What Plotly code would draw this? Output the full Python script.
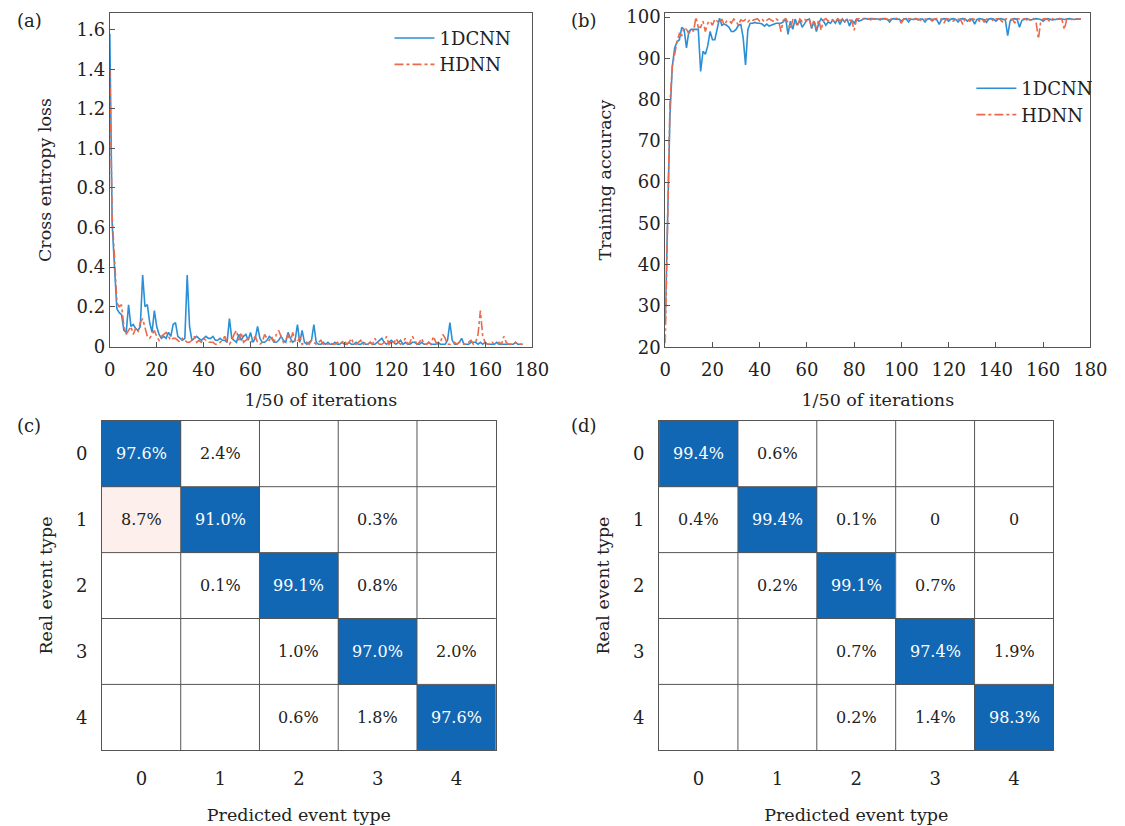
import plotly.graph_objects as go

# ---------------- data ----------------
loss_1dcnn = [
    1.58, 0.62, 0.40, 0.19, 0.17, 0.16, 0.08, 0.07, 0.21, 0.10,
    0.11, 0.09, 0.08, 0.10, 0.36, 0.20, 0.21, 0.12, 0.07, 0.18,
    0.10, 0.06, 0.04, 0.05, 0.04, 0.07, 0.05, 0.11, 0.12, 0.05,
    0.04, 0.03, 0.04, 0.36, 0.10, 0.03, 0.04, 0.05, 0.04, 0.03,
    0.04, 0.05, 0.04, 0.04, 0.05, 0.03, 0.03, 0.04, 0.03, 0.03,
    0.02, 0.14, 0.04, 0.03, 0.02, 0.06, 0.03, 0.05, 0.06, 0.03,
    0.07, 0.02, 0.04, 0.10, 0.04, 0.02, 0.02, 0.03, 0.05, 0.04,
    0.02, 0.02, 0.03, 0.05, 0.03, 0.02, 0.07, 0.04, 0.02, 0.03,
    0.11, 0.02, 0.08, 0.02, 0.01, 0.02, 0.03, 0.11, 0.02, 0.01,
    0.01, 0.02, 0.01, 0.02, 0.01, 0.01, 0.02, 0.01, 0.01, 0.02,
    0.01, 0.01, 0.02, 0.01, 0.01, 0.02, 0.01, 0.01, 0.02, 0.01,
    0.01, 0.02, 0.01, 0.01, 0.02, 0.03, 0.04, 0.02, 0.01, 0.02,
    0.03, 0.02, 0.01, 0.02, 0.03, 0.01, 0.02, 0.01, 0.01, 0.02,
    0.02, 0.01, 0.01, 0.02, 0.01, 0.01, 0.02, 0.01, 0.01, 0.01,
    0.02, 0.01, 0.01, 0.01, 0.03, 0.12, 0.03, 0.01, 0.01, 0.02,
    0.04, 0.01, 0.01, 0.01, 0.02, 0.02, 0.02, 0.01, 0.02, 0.01,
    0.02, 0.01, 0.01, 0.01, 0.01, 0.02, 0.01, 0.01, 0.01, 0.01,
    0.01, 0.01, 0.01, 0.02, 0.01, 0.01, 0.01,
]
loss_hdnn = [
    1.40, 0.65, 0.45, 0.22, 0.20, 0.21, 0.10, 0.06, 0.08, 0.10,
    0.06, 0.09, 0.07, 0.12, 0.14, 0.09, 0.05, 0.04, 0.06, 0.08,
    0.05, 0.03, 0.05, 0.06, 0.07, 0.05, 0.03, 0.04, 0.04, 0.03,
    0.02, 0.04, 0.03, 0.02, 0.02, 0.03, 0.05, 0.02, 0.03, 0.02,
    0.04, 0.03, 0.02, 0.02, 0.02, 0.01, 0.01, 0.02, 0.03, 0.05,
    0.02, 0.01, 0.03, 0.06, 0.08, 0.03, 0.07, 0.02, 0.03, 0.04,
    0.02, 0.03, 0.05, 0.02, 0.01, 0.02, 0.06, 0.04, 0.03, 0.05,
    0.02, 0.06, 0.08, 0.05, 0.02, 0.03, 0.06, 0.02, 0.07, 0.03,
    0.02, 0.05, 0.01, 0.02, 0.02, 0.01, 0.03, 0.02, 0.01, 0.02,
    0.03, 0.01, 0.02, 0.01, 0.02, 0.01, 0.01, 0.02, 0.01, 0.02,
    0.03, 0.01, 0.02, 0.04, 0.01, 0.01, 0.02, 0.03, 0.01, 0.02,
    0.01, 0.02, 0.01, 0.04, 0.02, 0.01, 0.01, 0.02, 0.05, 0.01,
    0.02, 0.01, 0.04, 0.02, 0.01, 0.02, 0.04, 0.01, 0.02, 0.05,
    0.03, 0.01, 0.02, 0.04, 0.01, 0.01, 0.02, 0.01, 0.05, 0.02,
    0.01, 0.02, 0.06, 0.04, 0.01, 0.01, 0.02, 0.02, 0.01, 0.02,
    0.02, 0.01, 0.01, 0.02, 0.03, 0.01, 0.02, 0.06, 0.18, 0.05,
    0.02, 0.01, 0.01, 0.02, 0.01, 0.01, 0.02, 0.01, 0.05, 0.02,
    0.01, 0.01, 0.01, 0.02, 0.01, 0.01, 0.01,
]
acc_1dcnn = [
    25.5, 55, 76, 88, 92.5, 94, 94.5, 97.5, 97, 92.5,
    96.5, 97, 97, 97, 97, 86.8, 91.7, 91, 93, 96.5,
    94.5, 94.5, 97, 99.7, 98, 98.3, 98, 97.5, 96.5, 96.5,
    97, 98, 98.2, 95, 88.4, 97, 98.5, 98.5, 98.7, 98.5,
    98.5, 98.3, 97.8, 98.3, 97.8, 98, 98.2, 98.5, 98.5, 98.5,
    98.8, 99.6, 95.8, 99, 97, 99.5, 98, 99.2, 97.5, 98.5,
    99.3, 99.5, 97.2, 99, 96.5, 98.5, 99.6, 99, 98, 98.8,
    98.5, 99.3, 98.5, 99.5, 98.2, 99.5, 98.8, 99.5, 97.8, 99.3,
    98.5, 99.5, 99, 99.2, 99.6, 99.6, 99.5, 99.6, 99.6, 99.5,
    99.5, 99.3, 99.6, 99.5, 99.4, 98.8, 99.5, 99.6, 99.4, 99.5,
    99.0, 99.5, 99.6, 98.8, 99.5, 99.4, 99.6, 99.3, 99.5, 99.5,
    98.8, 99.5, 99.6, 99.4, 99.5, 99.3, 98.2, 99.4, 99.6, 99.5,
    99.0, 99.5, 99.6, 99.4, 98.8, 99.5, 99.6, 99.5, 99.0, 99.5,
    99.5, 98.3, 99.4, 99.6, 99.5, 99.4, 98.7, 99.5, 99.6, 99.5,
    99.0, 99.5, 99.6, 99.4, 99.3, 95.5, 99.0, 99.5, 99.6, 99.4,
    97.5, 99.2, 99.5, 99.6, 99.4, 99.3, 99.5, 99.6, 99.5, 99.4,
    99.0, 99.5, 99.6, 99.5, 99.3, 99.4, 99.5, 99.6, 99.5, 99.4,
    99.5, 99.6, 99.5, 99.4, 99.5, 99.5, 99.5,
]
acc_hdnn = [
    21, 55, 79, 88, 91.5, 94, 96, 95.5, 97.5, 97,
    96, 97, 96.5, 100, 97.5, 97.5, 99, 96.5, 98.5, 99,
    98, 99.5, 99, 98.5, 99.5, 98, 99, 99.2, 98.5, 99.5,
    99, 98, 99.3, 99, 99.4, 98.8, 99.5, 99.2, 99.4, 99.6,
    99, 99.5, 98.8, 99.3, 99.6, 99.2, 98.9, 99.5, 99.1, 96.5,
    99.2, 99.6, 98.6, 97, 99.3, 98.8, 97.8, 99.5, 98.9, 99.4,
    99.1, 99.5, 97.5, 99.3, 97.2, 99.4, 96.8, 99.2, 99.6, 99.0,
    99.5, 99.2, 98.8, 99.6, 99.1, 99.5, 98.9, 99.6, 99.3, 99.0,
    96.8, 99.5, 99.6, 99.2, 99.6, 99.4, 99.6, 99.3, 99.6, 99.5,
    99.3, 99.6, 99.4, 99.7, 99.5, 99.3, 99.6, 99.5, 99.7, 99.4,
    98.5, 99.6, 99.4, 99.6, 99.5, 99.3, 99.6, 99.5, 99.2, 99.6,
    99.5, 99.4, 99.6, 99.0, 99.5, 99.6, 99.4, 99.5, 98.5, 99.6,
    99.5, 99.3, 99.0, 99.6, 99.5, 99.4, 98.2, 99.6, 99.5, 99.0,
    99.6, 99.4, 99.5, 99.0, 99.6, 98.8, 99.5, 99.4, 99.6, 99.0,
    99.5, 99.6, 99.3, 98.7, 99.5, 99.6, 99.4, 99.5, 98.5, 99.6,
    99.5, 99.4, 99.6, 99.3, 99.5, 99.0, 99.6, 98.8, 94.7, 99.0,
    99.5, 99.6, 99.4, 98.8, 99.6, 99.5, 99.4, 99.6, 99.3, 97.0,
    99.5, 99.6, 99.4, 99.5, 99.6, 99.5, 99.5,
]

loss_ticks = [0, 0.2, 0.4, 0.6, 0.8, 1.0, 1.2, 1.4, 1.6]
loss_ticktext = ["0", "0.2", "0.4", "0.6", "0.8", "1.0", "1.2", "1.4", "1.6"]
acc_ticks = [20, 30, 40, 50, 60, 70, 80, 90, 100]
iter_ticks = [0, 20, 40, 60, 80, 100, 120, 140, 160, 180]

classes = ["0", "1", "2", "3", "4"]
# confusion matrices (row = real, col = predicted), None = empty cell
cm_1dcnn = [
    [97.6, 2.4, None, None, None],
    [8.7, 91.0, None, 0.3, None],
    [None, 0.1, 99.1, 0.8, None],
    [None, None, 1.0, 97.0, 2.0],
    [None, None, 0.6, 1.8, 97.6],
]
cm_hdnn = [
    [99.4, 0.6, None, None, None],
    [0.4, 99.4, 0.1, 0.0, 0.0],
    [None, 0.2, 99.1, 0.7, None],
    [None, None, 0.7, 97.4, 1.9],
    [None, None, 0.2, 1.4, 98.3],
]

# ---------------- style ----------------
FONT = "DejaVu Serif, Liberation Serif, serif"
BLUE = "#2a8fd6"
RED = "#ea6a4b"
CELL_BLUE = "#1167b4"
AXC = "#555555"
TXT = "#222222"

fig = go.Figure()

# (a) loss
fig.add_trace(go.Scatter(x=list(range(len(loss_1dcnn))), y=loss_1dcnn, mode="lines",
                         name="1DCNN", line=dict(color=BLUE, width=1.6),
                         xaxis="x", yaxis="y", legend="legend"))
fig.add_trace(go.Scatter(x=list(range(len(loss_hdnn))), y=loss_hdnn, mode="lines",
                         name="HDNN", line=dict(color=RED, width=1.6, dash="dashdot"),
                         xaxis="x", yaxis="y", legend="legend"))
# (b) accuracy
fig.add_trace(go.Scatter(x=list(range(len(acc_1dcnn))), y=acc_1dcnn, mode="lines",
                         name="1DCNN", line=dict(color=BLUE, width=1.6),
                         xaxis="x2", yaxis="y2", legend="legend2"))
fig.add_trace(go.Scatter(x=list(range(len(acc_hdnn))), y=acc_hdnn, mode="lines",
                         name="HDNN", line=dict(color=RED, width=1.6, dash="dashdot"),
                         xaxis="x2", yaxis="y2", legend="legend2"))


def cm_z(cm):
    z = []
    for i, row in enumerate(cm):
        zr = []
        for j, v in enumerate(row):
            if i == j:
                zr.append(1.0)
            elif v is None:
                zr.append(0.0)
            else:
                zr.append(-v / 100.0)
        z.append(zr)
    return z


cscale = [[0.0, "#e07a6a"], [0.4565, "#fcefec"], [0.475, "#ffffff"],
          [0.999, "#ffffff"], [1.0, CELL_BLUE]]

for cm, xa, ya in [(cm_1dcnn, "x3", "y3"), (cm_hdnn, "x4", "y4")]:
    fig.add_trace(go.Heatmap(z=cm_z(cm), x=classes, y=classes, zmin=-1, zmax=1,
                             colorscale=cscale, showscale=False, hoverinfo="skip",
                             xaxis=xa, yaxis=ya))
    n = len(classes)
    for i in range(n):
        for j in range(n):
            v = cm[i][j]
            if v is None:
                continue
            txt = "0" if v == 0 else f"{v:.1f}%"
            fig.add_annotation(x=classes[j], y=classes[i], xref=xa, yref=ya, text=txt,
                               showarrow=False,
                               font=dict(family=FONT, size=16,
                                         color="white" if i == j else TXT))
    # cell grid lines
    for k in range(1, n):
        fig.add_shape(type="line", xref=xa, yref=ya + " domain", x0=k - 0.5, x1=k - 0.5,
                      y0=0, y1=1, line=dict(color=AXC, width=1), layer="above")
        fig.add_shape(type="line", xref=xa + " domain", yref=ya, y0=k - 0.5, y1=k - 0.5,
                      x0=0, x1=1, line=dict(color=AXC, width=1), layer="above")

tickfont = dict(family=FONT, size=18, color=TXT)
titlefont = dict(family=FONT, size=17.5, color=TXT)
common = dict(showline=True, linecolor=AXC, linewidth=1, mirror=True, showgrid=False,
              zeroline=False, tickfont=tickfont)

y_top = [0.5787, 0.9915]
y_bot = [0.0811, 0.4879]

fig.update_layout(
    width=1125, height=826, margin=dict(l=0, r=0, t=0, b=0),
    paper_bgcolor="white", plot_bgcolor="white",
    font=dict(family=FONT, color=TXT),
    xaxis=dict(domain=[0.0942, 0.4773], range=[0, 180], tickvals=iter_ticks,
               ticks="inside", ticklen=5, tickcolor=AXC, anchor="y", ticklabelstandoff=6,
               title=dict(text="1/50 of iterations", font=titlefont, standoff=14), **common),
    yaxis=dict(domain=y_top, range=[-0.005, 1.685], tickvals=loss_ticks, ticktext=loss_ticktext,
               ticks="inside", ticklen=5, tickcolor=AXC, anchor="x",
               title=dict(text="Cross entropy loss", font=titlefont, standoff=20), **common),
    xaxis2=dict(domain=[0.5982, 0.9840], range=[0, 180], tickvals=iter_ticks,
                ticks="inside", ticklen=5, tickcolor=AXC, anchor="y2", ticklabelstandoff=6,
                title=dict(text="1/50 of iterations", font=titlefont, standoff=14), **common),
    yaxis2=dict(domain=y_top, range=[20, 101], tickvals=acc_ticks,
                ticks="inside", ticklen=5, tickcolor=AXC, anchor="x2",
                title=dict(text="Training accuracy", font=titlefont, standoff=10), **common),
    xaxis3=dict(domain=[0.0871, 0.4444], anchor="y3", type="category", ticks="",
                ticklabelstandoff=12,
                title=dict(text="Predicted event type", font=titlefont, standoff=20), **common),
    yaxis3=dict(domain=y_bot, anchor="x3", type="category", autorange="reversed", ticks="",
                ticklabelstandoff=10,
                title=dict(text="Real event type", font=titlefont, standoff=18), **common),
    xaxis4=dict(domain=[0.5926, 0.9505], anchor="y4", type="category", ticks="",
                ticklabelstandoff=12,
                title=dict(text="Predicted event type", font=titlefont, standoff=20), **common),
    yaxis4=dict(domain=y_bot, anchor="x4", type="category", autorange="reversed", ticks="",
                ticklabelstandoff=10,
                title=dict(text="Real event type", font=titlefont, standoff=18), **common),
    legend=dict(x=0.348, y=0.983, xanchor="left", yanchor="top", bgcolor="rgba(0,0,0,0)",
                font=dict(family=FONT, size=18, color=TXT), tracegroupgap=0, itemwidth=40),
    legend2=dict(x=0.876, y=0.921, xanchor="left", yanchor="top", bgcolor="rgba(0,0,0,0)",
                 font=dict(family=FONT, size=18, color=TXT), tracegroupgap=0, itemwidth=40),
)

for lab, x, y in [("(a)", 0.008, 0.982), ("(b)", 0.511, 0.982),
                  ("(c)", 0.008, 0.482), ("(d)", 0.511, 0.482)]:
    fig.add_annotation(x=x, y=y, xref="paper", yref="paper", text=lab, showarrow=False,
                       xanchor="left", yanchor="middle", font=dict(family=FONT, size=18, color=TXT))

fig.write_html("out.html")
